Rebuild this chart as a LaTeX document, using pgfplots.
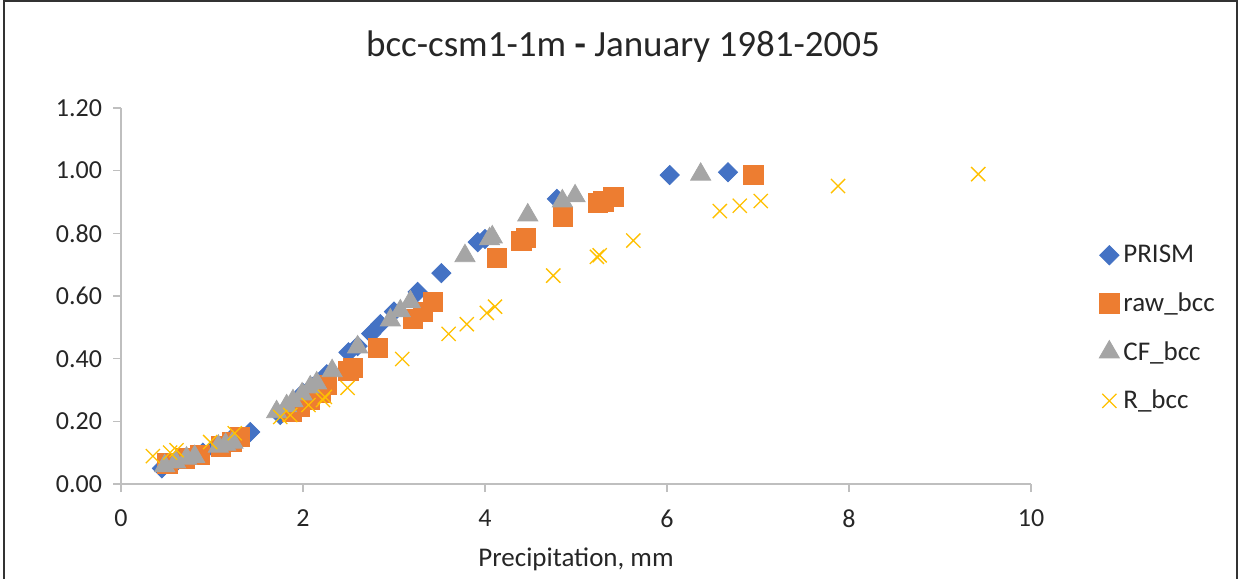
\documentclass[border=0pt]{standalone}
\usepackage{pgfplots}
\pgfplotsset{compat=1.18}
\usepackage{fontspec}
\setmainfont{Carlito}

\definecolor{cPrism}{HTML}{4472C4}
\definecolor{cRaw}{HTML}{ED7D31}
\definecolor{cCF}{HTML}{A5A5A5}
\definecolor{cR}{HTML}{FFC000}
\definecolor{axgray}{HTML}{BFBFBF}
\definecolor{txt}{HTML}{262626}

\begin{document}
\begin{tikzpicture}
\useasboundingbox (0,0) rectangle (619.5pt,289.5pt);
% chart frame
\draw[line width=0.6pt, black!80] (2pt,-1pt) -- (2pt,289pt) -- (618.5pt,289pt) -- (618.5pt,-1pt);
% title
\node[font=\fontsize{18.5}{22}\selectfont, text=txt] at (311.5pt,266pt)
  {bcc-csm1-1m {\bfseries -} January 1981-2005};

\begin{axis}[
  at={(60.5pt,47.5pt)}, anchor=south west,
  scale only axis, width=455pt, height=188pt,
  xmin=0, xmax=10, ymin=0, ymax=1.2,
  axis x line=bottom, axis y line=left,
  axis line style={axgray, line width=0.6pt, -},
  xtick={0,2,4,6,8,10},
  ytick={0,0.2,0.4,0.6,0.8,1.0,1.2},
  tick align=outside, major tick length=4pt,
  tick style={axgray, line width=0.6pt},
  yticklabel style={/pgf/number format/fixed, /pgf/number format/fixed zerofill,
    /pgf/number format/precision=2},
  /pgf/number format/assume math mode=true,
  ticklabel style={font=\fontsize{13}{15}\selectfont, text=txt},
  xticklabel style={yshift=-5.5pt},
  yticklabel style={xshift=-2pt},
  xlabel={Precipitation, mm},
  xlabel style={font=\fontsize{13.5}{16}\selectfont, text=txt, yshift=-3pt},
  legend style={at={(1.068,0.658)}, anchor=north west, draw=none, fill=none,
    font=\fontsize{13.5}{16}\selectfont, text=txt, row sep=9.5pt,
    /tikz/every even column/.append style={column sep=1pt}},
  legend cell align=left,
  clip=false,
]
% PRISM
\addplot[only marks, mark=square*, mark size=3.4pt, color=cPrism,
  mark options={rotate=45, draw=none, fill=cPrism}] coordinates {
 (0.45,0.050) (0.60,0.068) (0.75,0.082) (0.90,0.100) (1.05,0.120)
 (1.20,0.140) (1.42,0.166) (1.75,0.220) (1.85,0.242) (1.95,0.270)
 (2.00,0.290) (2.10,0.310) (2.26,0.350) (2.50,0.420) (2.60,0.440)
 (2.75,0.480) (2.85,0.510) (3.00,0.550) (3.26,0.613) (3.52,0.673)
 (3.92,0.772) (4.00,0.782) (4.79,0.910) (6.03,0.986) (6.67,0.995)
};
\addlegendentry{PRISM}
% raw_bcc
\addplot[only marks, mark=square*, mark size=4.8pt, color=cRaw,
  mark options={draw=none, fill=cRaw}] coordinates {
 (0.51,0.066) (0.70,0.082) (0.87,0.093) (1.10,0.120) (1.22,0.135)
 (1.31,0.151) (1.88,0.230) (1.97,0.245) (2.08,0.268) (2.20,0.290)
 (2.26,0.316) (2.50,0.360) (2.55,0.370) (2.82,0.435) (3.21,0.527)
 (3.32,0.549) (3.43,0.580) (4.13,0.722) (4.40,0.775) (4.45,0.785)
 (4.86,0.852) (5.24,0.897) (5.30,0.902) (5.41,0.916) (6.95,0.986)
};
\addlegendentry{raw\_bcc}
% CF_bcc
\addplot[only marks, mark=triangle*, mark size=5.8pt, color=cCF,
  mark options={draw=none, fill=cCF}] coordinates {
 (0.48,0.058) (0.60,0.070) (0.72,0.082) (0.81,0.087) (1.07,0.120)
 (1.15,0.126) (1.23,0.133) (1.71,0.230) (1.82,0.249) (1.89,0.265)
 (1.99,0.287) (2.08,0.309) (2.15,0.322) (2.32,0.361) (2.60,0.437)
 (2.96,0.523) (3.07,0.552) (3.18,0.581) (3.78,0.728) (4.05,0.782)
 (4.08,0.788) (4.47,0.858) (4.85,0.903) (4.99,0.919) (6.37,0.988)
};
\addlegendentry{CF\_bcc}
% R_bcc
\addplot[only marks, mark=x, mark size=5pt, color=cR,
  mark options={line width=0.65pt}] coordinates {
 (0.35,0.089) (0.54,0.100) (0.61,0.108) (0.98,0.134) (1.25,0.162)
 (1.75,0.214) (1.86,0.220) (2.06,0.252) (2.22,0.268) (2.24,0.278)
 (2.49,0.307) (3.09,0.399) (3.60,0.479) (3.80,0.510) (4.02,0.546)
 (4.11,0.566) (4.75,0.665) (5.23,0.725) (5.26,0.730) (5.63,0.777)
 (6.58,0.871) (6.80,0.888) (7.03,0.903) (7.88,0.951) (9.42,0.989)
};
\addlegendentry{R\_bcc}
\end{axis}
\end{tikzpicture}
\end{document}
